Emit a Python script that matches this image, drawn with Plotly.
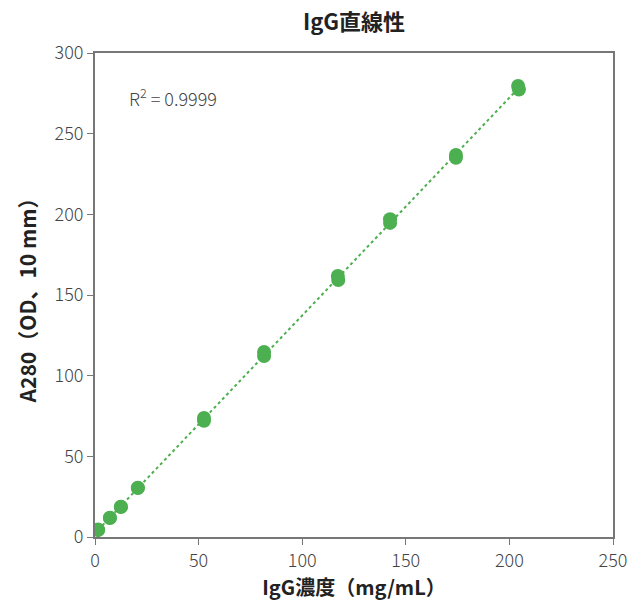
import numpy as np
import plotly.graph_objects as go

conc = [1.5, 1.5, 7.2, 7.2, 12.5, 12.5, 20.7, 20.7, 52.6, 52.6, 81.6, 81.6,
        117.2, 117.4, 142.4, 142.4, 174.2, 174.2, 204.2, 204.6]
a280 = [4.3, 4.6, 11.8, 12.0, 18.6, 18.8, 30.4, 30.6, 73.8, 72.0, 114.7, 112.2,
        161.8, 159.3, 197.0, 194.7, 236.8, 235.0, 279.6, 277.4]

slope, intercept = np.polyfit(conc, a280, 1)
fit_x = [min(conc), max(conc)]
fit_y = [slope * v + intercept for v in fit_x]

green = "#4caf50"
font = "Noto Sans CJK JP"

fig = go.Figure()
fig.add_trace(go.Scatter(x=fit_x, y=fit_y, mode="lines",
                         line=dict(color=green, width=2, dash="dot"),
                         hoverinfo="skip", showlegend=False))
fig.add_trace(go.Scatter(x=conc, y=a280, mode="markers",
                         marker=dict(color=green, size=14),
                         showlegend=False))

fig.add_annotation(x=15.5, y=273, xref="x", yref="y", text="R<sup>2</sup> = 0.9999",
                   showarrow=False, xanchor="left", yanchor="middle",
                   font=dict(family=font, size=18, color="#444", weight=300))

axis_common = dict(showline=True, linecolor="#777", linewidth=2, mirror=True,
                   ticks="outside", ticklen=6, tickcolor="#777", tickwidth=1,
                   showgrid=False, zeroline=False, automargin=False,
                   tickfont=dict(family=font, size=18, color="#444", weight=300))

fig.update_layout(
    width=643, height=602,
    margin=dict(l=87, r=38, t=45, b=73),
    paper_bgcolor="white", plot_bgcolor="white",
    title=dict(text="<b>IgG直線性</b>", x=0.5, xref="paper", y=0.976, yanchor="middle",
               pad=dict(t=0, b=0),
               font=dict(family=font, size=22, color="#222")),
    xaxis=dict(range=[0, 250], tickvals=[0, 50, 100, 150, 200, 250],
               title=dict(text="<b>IgG濃度（mg/mL）</b>", standoff=6,
                          font=dict(family=font, size=20, color="#222")),
               **axis_common),
    yaxis=dict(range=[0, 300], tickvals=[0, 50, 100, 150, 200, 250, 300],
               title=dict(text="<b>A280（OD、10 mm）</b>", standoff=12,
                          font=dict(family=font, size=21, color="#222")),
               **axis_common),
)

fig.write_html("out.html")
